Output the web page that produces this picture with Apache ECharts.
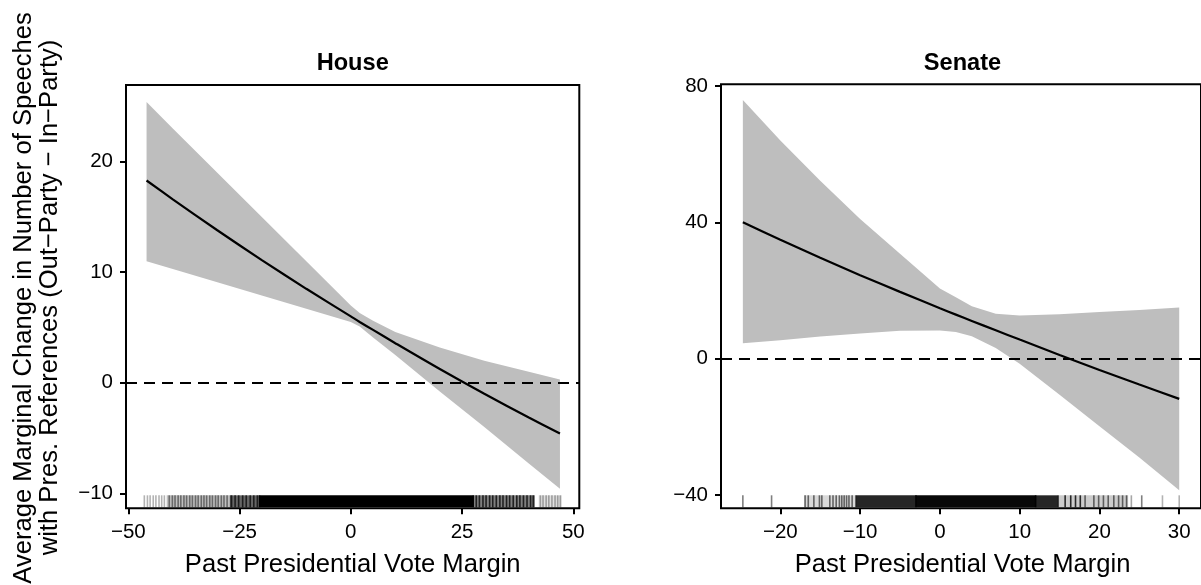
<!DOCTYPE html>
<html>
<head>
<meta charset="utf-8">
<script src="https://cdn.jsdelivr.net/npm/echarts@6/dist/echarts.min.js"></script>
<style>
html, body { margin: 0; padding: 0; background: #fff; }
#container { width: 1201px; height: 585px; }
</style>
</head>
<body>
<div id="container"></div>
<script>
// House: marginal effect with 95% band
var houseX = [-45.9, -40, -30, -20, -10, 0, 2, 5, 10, 20, 30, 40, 47];
var houseFit = [18.3, 16.6, 13.8, 11.1, 8.5, 6.0, 5.5, 4.78, 3.58, 1.24, -1.0, -3.15, -4.6];
var houseUpper = [25.4, 23.0, 19.0, 15.0, 11.0, 7.0, 6.3, 5.6, 4.6, 3.2, 2.0, 1.0, 0.3];
var houseLower = [11.0, 10.3, 9.1, 7.9, 6.7, 5.5, 5.1, 4.1, 2.5, -0.8, -4.0, -7.3, -9.6];

// Senate
var senateX = [-24.7, -20, -15, -10, -5, 0, 2, 4, 7, 10, 15, 20, 25, 30];
var senateFit = [40.0, 34.9, 29.6, 24.5, 19.6, 14.8, 12.93, 11.08, 8.33, 5.6, 1.1, -3.3, -7.6, -11.8];
var senateUpper = [75.9, 64.0, 52.2, 41.0, 30.8, 20.6, 18.0, 15.4, 13.2, 12.7, 13.0, 13.7, 14.3, 15.0];
var senateLower = [4.5, 5.4, 6.5, 7.4, 8.2, 8.3, 7.8, 6.6, 3.1, -1.5, -10.6, -19.8, -29.0, -38.6];

// rug: [from, to, darkness] (from == to is a single observation)
var houseRug = [
    [-41.2, -27.0, 0.25], [-27.0, -20.5, 0.6], [-20.5, 27.5, 1], [27.5, 41.2, 0.5], [42.4, 47.2, 0.12],
    [-46.4, -46.4, 0.3], [-45.7, -45.7, 0.3], [-45.1, -45.1, 0.3], [-44.4, -44.4, 0.3],
    [-43.8, -43.8, 0.3], [-43.1, -43.1, 0.3], [-42.5, -42.5, 0.3], [-41.9, -41.9, 0.3],
    [-40.8, -40.8, 0.45], [-40.1, -40.1, 0.45], [-39.5, -39.5, 0.45], [-38.8, -38.8, 0.45],
    [-38.2, -38.2, 0.45], [-37.5, -37.5, 0.45], [-36.9, -36.9, 0.45], [-36.2, -36.2, 0.45],
    [-35.6, -35.6, 0.45], [-34.9, -34.9, 0.45], [-34.3, -34.3, 0.45], [-33.6, -33.6, 0.45],
    [-33.0, -33.0, 0.45], [-32.4, -32.4, 0.45], [-31.7, -31.7, 0.45], [-31.1, -31.1, 0.45],
    [-30.4, -30.4, 0.45], [-29.8, -29.8, 0.45], [-29.1, -29.1, 0.45], [-28.5, -28.5, 0.45],
    [-27.8, -27.8, 0.45],
    [-26.8, -26.8, 0.7], [-26.0, -26.0, 0.7], [-25.2, -25.2, 0.7], [-24.3, -24.3, 0.7],
    [-23.5, -23.5, 0.7], [-22.6, -22.6, 0.7], [-21.8, -21.8, 0.7], [-21.0, -21.0, 0.7],
    [28.2, 28.2, 0.75], [28.9, 28.9, 0.75], [29.7, 29.7, 0.75], [30.4, 30.4, 0.75],
    [31.2, 31.2, 0.75], [31.9, 31.9, 0.75], [32.7, 32.7, 0.75], [33.5, 33.5, 0.75],
    [34.2, 34.2, 0.75], [35.0, 35.0, 0.75], [35.7, 35.7, 0.75], [36.5, 36.5, 0.75],
    [37.3, 37.3, 0.75], [38.0, 38.0, 0.75], [38.8, 38.8, 0.75], [39.6, 39.6, 0.75],
    [40.4, 40.4, 0.75], [41.0, 41.0, 0.75],
    [42.6, 42.6, 0.3], [43.2, 43.2, 0.3], [43.9, 43.9, 0.3], [44.5, 44.5, 0.3],
    [45.2, 45.2, 0.3], [45.9, 45.9, 0.3], [46.5, 46.5, 0.3], [47.1, 47.1, 0.3]
];
var senateRug = [
    [-10.5, -3.0, 0.85], [-3.0, 12.0, 0.97], [12.0, 14.8, 0.85], [14.8, 23.5, 0.2],
    [-16.9, -10.5, 0.15],
    [-24.7, -24.7, 0.5], [-21.1, -21.1, 0.5],
    [-16.9, -16.9, 0.55], [-16.5, -16.5, 0.55], [-15.8, -15.8, 0.55], [-15.1, -15.1, 0.55],
    [-14.8, -14.8, 0.55], [-13.8, -13.8, 0.55], [-13.4, -13.4, 0.55], [-13.0, -13.0, 0.55],
    [-12.6, -12.6, 0.55], [-12.3, -12.3, 0.55], [-12.0, -12.0, 0.55], [-11.7, -11.7, 0.55],
    [-11.4, -11.4, 0.55], [-11.0, -11.0, 0.55],
    [15.7, 15.7, 0.8], [16.4, 16.4, 0.8], [17.0, 17.0, 0.8], [17.6, 17.6, 0.8],
    [18.2, 18.2, 0.55], [19.3, 19.3, 0.55], [19.9, 19.9, 0.55], [20.5, 20.5, 0.55],
    [21.1, 21.1, 0.55], [21.8, 21.8, 0.55], [22.4, 22.4, 0.55], [22.9, 22.9, 0.55],
    [23.4, 23.4, 0.55], [24.0, 24.0, 0.35], [25.3, 25.3, 0.5], [27.9, 27.9, 0.3], [30.0, 30.0, 0.3]
];

var houseXTicks = [-50, -25, 0, 25, 50];
var houseYTicks = [-10, 0, 10, 20];
var senateXTicks = [-20, -10, 0, 10, 20, 30];
var senateYTicks = [-40, 0, 40, 80];

var FONT = 'Liberation Sans, Arial, Helvetica, sans-serif';

function pairs(xs, ys) {
    var out = [];
    for (var i = 0; i < xs.length; i++) {
        out.push([xs[i], ys[i]]);
    }
    return out;
}

function fmt(v) {
    return String(v).replace('-', '\u2212');
}

function makeAxis(gridIndex, min, max, ticks, isX) {
    return {
        type: 'value',
        gridIndex: gridIndex,
        min: min,
        max: max,
        axisLine: { show: false, onZero: false },
        axisTick: {
            show: true,
            length: 6,
            customValues: ticks,
            lineStyle: { color: '#000', width: 2 }
        },
        axisLabel: {
            customValues: ticks,
            margin: isX ? 14 : 13,
            color: '#000',
            fontSize: 20.5,
            fontFamily: FONT,
            formatter: fmt
        },
        splitLine: { show: false }
    };
}

// gray confidence band, built from upper/lower arrays
function bandSeries(idx, xs, up, lo) {
    return {
        type: 'custom',
        xAxisIndex: idx,
        yAxisIndex: idx,
        silent: true,
        z: 1,
        data: [[xs[0], up[0]]],
        renderItem: function (params, api) {
            var pts = [];
            for (var i = 0; i < xs.length; i++) {
                pts.push(api.coord([xs[i], up[i]]));
            }
            for (var j = xs.length - 1; j >= 0; j--) {
                pts.push(api.coord([xs[j], lo[j]]));
            }
            return {
                type: 'polygon',
                shape: { points: pts },
                style: { fill: '#bebebe' }
            };
        }
    };
}

function rugSeries(idx, rug) {
    return {
        type: 'custom',
        xAxisIndex: idx,
        yAxisIndex: idx,
        silent: true,
        z: 2,
        encode: { x: [0, 1] },
        data: rug,
        renderItem: function (params, api) {
            var bottom = params.coordSys.y + params.coordSys.height;
            var p0 = api.coord([api.value(0), 0])[0];
            var p1 = api.coord([api.value(1), 0])[0];
            return {
                type: 'rect',
                shape: { x: p0 - 0.8, y: bottom - 13, width: p1 - p0 + 1.6, height: 12 },
                style: { fill: 'rgba(0,0,0,' + api.value(2) + ')' }
            };
        }
    };
}

function fitSeries(idx, xs, ys) {
    return {
        type: 'line',
        xAxisIndex: idx,
        yAxisIndex: idx,
        data: pairs(xs, ys),
        smooth: 0.3,
        symbol: 'none',
        z: 3,
        lineStyle: { color: '#000', width: 2.2 },
        markLine: {
            silent: true,
            symbol: ['none', 'none'],
            label: { show: false },
            lineStyle: { color: '#000', type: [11, 7], width: 1.8 },
            data: [{ yAxis: 0 }]
        }
    };
}

function label(text, x, y, size, bold, rot) {
    return {
        type: 'text',
        x: x,
        y: y,
        rotation: rot || 0,
        style: {
            text: text,
            fontSize: size,
            fontFamily: FONT,
            fontWeight: bold ? 'bold' : 'normal',
            fill: '#000',
            textAlign: 'center',
            textVerticalAlign: 'middle'
        }
    };
}

var chart = echarts.init(document.getElementById('container'));
var option = {
    animation: false,
    backgroundColor: '#fff',
    grid: [
        { left: 126, top: 85, width: 453.3, height: 423.3, show: true, borderColor: '#000', borderWidth: 2 },
        { left: 721, top: 84.3, width: 483, height: 424, show: true, borderColor: '#000', borderWidth: 2 }
    ],
    xAxis: [
        makeAxis(0, -50.52, 51.35, houseXTicks, true),
        makeAxis(1, -27.44, 32.73, senateXTicks, true)
    ],
    yAxis: [
        makeAxis(0, -11.36, 26.94, houseYTicks, false),
        makeAxis(1, -43.9, 80.5, senateYTicks, false)
    ],
    graphic: [
        label('House', 352.7, 63, 23.6, true),
        label('Senate', 962.5, 63, 23.6, true),
        label('Past Presidential Vote Margin', 352.7, 565, 25.6, false),
        label('Past Presidential Vote Margin', 962.5, 565, 25.6, false),
        label('Average Marginal Change in Number of Speeches', 23.5, 298, 25.6, false, Math.PI / 2),
        label('with Pres. References (Out\u2212Party \u2212 In\u2212Party)', 50, 297.5, 25.6, false, Math.PI / 2)
    ],
    series: [
        bandSeries(0, houseX, houseUpper, houseLower),
        rugSeries(0, houseRug),
        fitSeries(0, houseX, houseFit),
        bandSeries(1, senateX, senateUpper, senateLower),
        rugSeries(1, senateRug),
        fitSeries(1, senateX, senateFit)
    ]
};
chart.setOption(option);
</script>
</body>
</html>
